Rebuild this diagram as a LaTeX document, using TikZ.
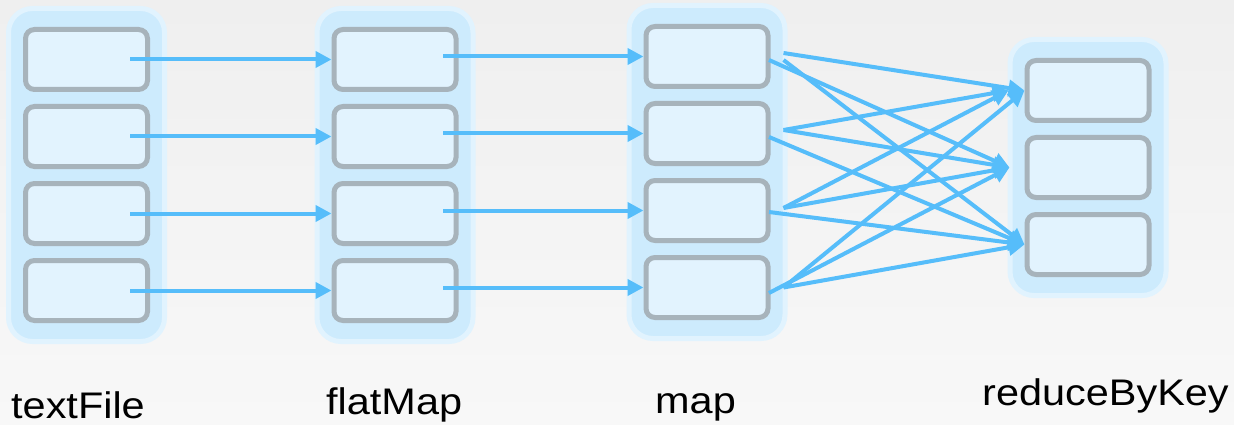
\documentclass[tikz,border=0pt]{standalone}
\usepackage{fontspec}
\setmainfont{Liberation Sans}
\usepackage{graphicx}
\usepackage{tikz}
\usetikzlibrary{arrows.meta,positioning,fit,backgrounds,calc}
\definecolor{sky}{RGB}{86,189,250}
\definecolor{slab}{RGB}{205,235,253}
\definecolor{halo}{RGB}{225,243,254}
\definecolor{cellblue}{RGB}{226,243,254}
\definecolor{rim}{RGB}{167,179,187}
\definecolor{papertop}{RGB}{239,239,239}
\definecolor{paperlow}{RGB}{248,248,248}
\newcommand{\stagename}[1]{\scalebox{1.12}[1]{#1}}

\begin{document}
\begin{tikzpicture}[x=1pt, y=-1pt,
    slot/.style={draw=rim, fill=cellblue, line width=5pt, rounded corners=9pt, minimum width=122pt, minimum height=60pt, inner sep=0pt},
    lane/.style={draw=halo, fill=slab, line width=5pt, rounded corners=24pt, inner xsep=14.5pt, inner ysep=18.5pt},
    flow/.style={draw=sky, line width=4pt, -{Triangle[length=16pt,width=16pt]}},
    stagelabel/.style={font=\fontsize{37}{40}\selectfont, anchor=base west, inner sep=0pt}]
    \useasboundingbox (0,0) rectangle (1234,425);

    % partitions of each stage
    \node[slot] (t1) at (86.5,59.5) {};
    \node[slot] (t2) [below=12pt of t1] {};
    \node[slot] (t3) [below=12pt of t2] {};
    \node[slot] (t4) [below=12pt of t3] {};

    \node[slot] (f1) [right=181.5pt of t1] {};
    \node[slot] (f2) [below=12pt of f1] {};
    \node[slot] (f3) [below=12pt of f2] {};
    \node[slot] (f4) [below=12pt of f3] {};

    \node[slot] (m1) [right=185pt of f1, yshift=3pt] {};
    \node[slot] (m2) [below=12pt of m1] {};
    \node[slot] (m3) [below=12pt of m2] {};
    \node[slot] (m4) [below=12pt of m3] {};

    \node[slot] (r1) [right=254pt of m1, yshift=-34pt] {};
    \node[slot] (r2) [below=12pt of r1] {};
    \node[slot] (r3) [below=12pt of r2] {};

    % page and stage backgrounds
    \begin{scope}[on background layer]
        \shade[top color=papertop, bottom color=paperlow] (0,0) rectangle (1234,425);
        \node[lane, fit=(t1)(t4)] (textFile) {};
        \node[lane, fit=(f1)(f4)] (flatMap) {};
        \node[lane, fit=(m1)(m4)] (map) {};
        \node[lane, fit=(r1)(r3)] (reduceByKey) {};
    \end{scope}

    % Labels
    \node[stagelabel] at (11,418) {\stagename{textFile}};
    \node[stagelabel] at (326,414) {\stagename{flatMap}};
    \node[stagelabel] at (655,413) {\stagename{map}};
    \node[stagelabel] at (982,405) {\stagename{reduceByKey}};

    % narrow dependencies
    \draw[flow] ([xshift=43.5pt]t1.center) -- (f1.west);
    \draw[flow] ([xshift=43.5pt]t2.center) -- (f2.west);
    \draw[flow] ([xshift=43.5pt]t3.center) -- (f3.west);
    \draw[flow] ([xshift=43.5pt]t4.center) -- (f4.west);

    \draw[flow] ($(f1.center |- m1.center)+(48,0)$) -- (m1.west);
    \draw[flow] ($(f2.center |- m2.center)+(48,0)$) -- (m2.west);
    \draw[flow] ($(f3.center |- m3.center)+(48,0)$) -- (m3.west);
    \draw[flow] ($(f4.center |- m4.center)+(48,0)$) -- (m4.west);

    % shuffle: every map partition feeds every reduce partition
    \coordinate (r1near) at (r1.west);
    \coordinate (r1far) at ([xshift=-16pt]r1.west);
    \coordinate (r2far) at ([xshift=-15pt]r2.west);
    \coordinate (r3near) at (r3.west);

    \draw[flow] ([xshift=13pt, yshift=3.5pt]m1.east) -- (r1near);
    \draw[flow] ([xshift=-1.5pt, yshift=-3.5pt]m1.east) -- (r2far);
    \draw[flow] ([xshift=13pt, yshift=-3.5pt]m1.east) -- (r3near);

    \draw[flow] ([xshift=13pt, yshift=3.5pt]m2.east) -- (r1far);
    \draw[flow] ([xshift=13pt, yshift=3.5pt]m2.east) -- (r2far);
    \draw[flow] ([xshift=-1.5pt, yshift=-3.5pt]m2.east) -- (r3near);

    \draw[flow] ([xshift=13pt, yshift=2.5pt]m3.east) -- (r1far);
    \draw[flow] ([xshift=13pt, yshift=2.5pt]m3.east) -- (r2far);
    \draw[flow] ([xshift=-1.5pt, yshift=-1.5pt]m3.east) -- (r3near);

    \draw[flow] ([xshift=13pt]m4.east) -- (r1near);
    \draw[flow] ([xshift=-1.5pt, yshift=-5.5pt]m4.east) -- (r2far);
    \draw[flow] ([xshift=13pt]m4.east) -- (r3near);
\end{tikzpicture}
\end{document}
